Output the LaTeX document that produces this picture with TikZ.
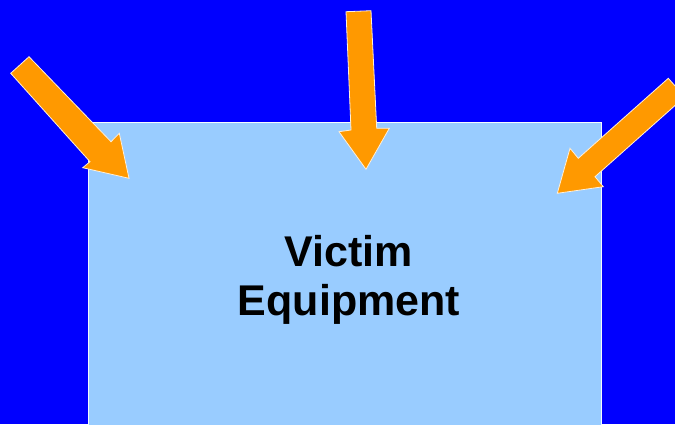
\documentclass[tikz,border=0pt]{standalone}
\usepackage{fontspec}
\setmainfont{Liberation Sans}
\definecolor{slideblue}{RGB}{0,0,255}
\definecolor{boxblue}{RGB}{153,204,255}
\definecolor{arroworange}{RGB}{255,153,0}
\tikzset{
  victimbox/.style={fill=boxblue, draw=white!90!boxblue, line width=0.8pt},
  blockarrow/.style={fill=arroworange, draw=white!85!arroworange, line width=0.8pt, line join=miter},
  boxlabel/.style={font=\fontsize{43}{48}\selectfont\bfseries, anchor=base, inner sep=0pt}
}
\begin{document}
\begin{tikzpicture}[x=1pt, y=-1pt]
\fill[slideblue] (0,0) rectangle (675,424);
\useasboundingbox (0,0) rectangle (675,424);
\clip (0,0) rectangle (675,424);
\draw[victimbox] (88,122.7) rectangle (601,440);
\node[boxlabel] (victim) at (349,266.7) {Victim\hspace{0.28em}};
\node[boxlabel] (equipment) at (349,315) {Equipment};
% left arrow
\draw[blockarrow] (10.7,73.3) -- (29,56.7) -- (111,141.7) -- (119.3,133.3) -- (129,178.3) -- (82.7,167.7) -- (90,161.7) -- cycle;
% middle arrow
\draw[blockarrow] (346,11.7) -- (371,10.7) -- (376.7,128.3) -- (389.3,128.3) -- (366,169.3) -- (339,131.7) -- (351,130) -- cycle;
% right arrow
\draw[blockarrow] (668.3,78.3) -- (684.8,96.8) -- (595,176.7) -- (603.3,186.7) -- (557.3,193.3) -- (570,148.3) -- (578.3,158.3) -- cycle;
\end{tikzpicture}
\end{document}
